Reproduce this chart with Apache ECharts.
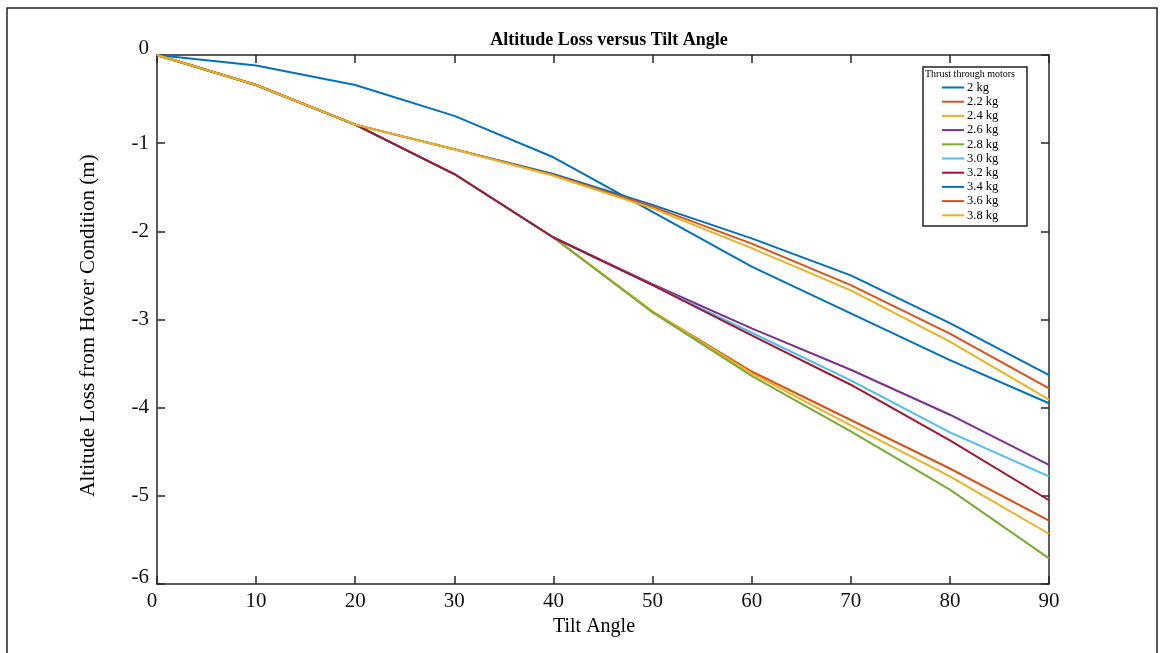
<!DOCTYPE html>
<html>
<head>
<meta charset="utf-8">
<script src="https://cdn.jsdelivr.net/npm/echarts@6/dist/echarts.min.js"></script>
<style>
html,body{margin:0;padding:0;background:#fff;}
#chart{width:1160px;height:653px;}
</style>
</head>
<body>
<div id="chart"></div>
<script>
const tiltAngles = [0, 10, 20, 30, 40, 50, 60, 70, 80, 90];
const seriesNames = ['2 kg', '2.2 kg', '2.4 kg', '2.6 kg', '2.8 kg', '3.0 kg', '3.2 kg', '3.4 kg', '3.6 kg', '3.8 kg'];
const loss2_0 = [0, -0.12, -0.34, -0.69, -1.16, -1.78, -2.40, -2.93, -3.46, -3.95];
const loss2_2 = [0, -0.34, -0.79, -1.35, -2.07, -2.91, -3.59, -4.14, -4.69, -5.28];
const loss2_4 = [0, -0.34, -0.79, -1.35, -2.07, -2.91, -3.61, -4.20, -4.78, -5.43];
const loss2_6 = [0, -0.34, -0.79, -1.35, -2.07, -2.60, -3.10, -3.57, -4.08, -4.65];
const loss2_8 = [0, -0.34, -0.79, -1.35, -2.07, -2.92, -3.64, -4.27, -4.93, -5.71];
const loss3_0 = [0, -0.34, -0.79, -1.35, -2.07, -2.61, -3.15, -3.69, -4.28, -4.78];
const loss3_2 = [0, -0.34, -0.79, -1.35, -2.07, -2.61, -3.18, -3.74, -4.37, -5.05];
const loss3_4 = [0, -0.34, -0.79, -1.07, -1.35, -1.70, -2.08, -2.50, -3.04, -3.63];
const loss3_6 = [0, -0.34, -0.79, -1.07, -1.36, -1.72, -2.14, -2.61, -3.16, -3.78];
const loss3_8 = [0, -0.34, -0.79, -1.07, -1.37, -1.74, -2.19, -2.67, -3.25, -3.91];
const allLosses = [loss2_0, loss2_2, loss2_4, loss2_6, loss2_8, loss3_0, loss3_2, loss3_4, loss3_6, loss3_8];
const colors = ['#0072BD', '#D95319', '#EDB120', '#7E2F8E', '#77AC30', '#4DBEEE', '#A2142F', '#0072BD', '#D95319', '#EDB120'];

const serif = '"Liberation Serif", "DejaVu Serif", serif';
const axisColor = '#262626';

const chart = echarts.init(document.getElementById('chart'), null, {renderer: 'canvas'});

const series = seriesNames.map((name, i) => ({
  name: name,
  type: 'line',
  xAxisIndex: 0,
  yAxisIndex: 0,
  data: tiltAngles.map((a, j) => [a, allLosses[i][j]]),
  showSymbol: false,
  symbol: 'none',
  lineStyle: {color: colors[i], width: 2},
  itemStyle: {color: colors[i]},
  emphasis: {disabled: true},
  animation: false
}));

const option = {
  animation: false,
  title: {
    text: 'Altitude Loss versus Tilt Angle',
    left: 604, top: 26, textAlign: 'center',
    textStyle: {fontFamily: serif, fontWeight: 'bold', fontSize: 18, color: '#000'}
  },
  grid: {left: 157, right: 111, top: 55, bottom: 69, containLabel: false},
  legend: {
    orient: 'vertical',
    left: 942, top: 81,
    icon: 'rect',
    itemWidth: 22, itemHeight: 2,
    itemGap: 1.2,
    padding: 0,
    data: seriesNames,
    textStyle: {fontFamily: serif, fontSize: 12.5, color: '#000', padding: [0, 0, 0, -2], lineHeight: 13}
  },
  xAxis: [{
    type: 'value', min: 0, max: 90, interval: 10, position: 'bottom',
    name: 'Tilt Angle', nameLocation: 'middle', nameGap: 29,
    nameTextStyle: {fontFamily: serif, fontSize: 20, color: '#000', padding: [0, 18, 0, 0]},
    axisLine: {show: true, onZero: false, lineStyle: {color: axisColor, width: 1.5}},
    axisTick: {show: true, inside: true, length: 8, lineStyle: {color: axisColor, width: 1.5}},
    axisLabel: {
      fontFamily: serif, fontSize: 21, color: '#111', margin: 7,
      formatter: v => v === 0 ? '{l|0}' : String(v),
      rich: {l: {fontFamily: serif, fontSize: 21, color: '#111', padding: [0, 10, 0, 0]}}
    },
    splitLine: {show: false}
  }, {
    type: 'value', min: 0, max: 90, interval: 10, position: 'top',
    axisLine: {show: true, onZero: false, lineStyle: {color: axisColor, width: 1.5}},
    axisTick: {show: true, inside: true, length: 8, lineStyle: {color: axisColor, width: 1.5}},
    axisLabel: {show: false},
    splitLine: {show: false}
  }],
  yAxis: [{
    type: 'value', min: -6, max: 0, interval: 1, position: 'left',
    name: 'Altitude Loss from Hover Condition (m)', nameLocation: 'middle', nameGap: 58,
    nameRotate: 90,
    nameTextStyle: {fontFamily: serif, fontSize: 21, color: '#000', padding: [0, 12, 0, 0]},
    axisLine: {show: true, onZero: false, lineStyle: {color: axisColor, width: 1.5}},
    axisTick: {show: true, inside: true, length: 8, lineStyle: {color: axisColor, width: 1.5}},
    axisLabel: {
      fontFamily: serif, fontSize: 21, color: '#111', margin: 8,
      formatter: v => (v === 0 || v === -6) ? '{u|' + v + '}' : String(v),
      rich: {u: {fontFamily: serif, fontSize: 21, color: '#111', padding: [0, 0, 14, 0]}}
    },
    splitLine: {show: false}
  }, {
    type: 'value', min: -6, max: 0, interval: 1, position: 'right',
    axisLine: {show: true, onZero: false, lineStyle: {color: axisColor, width: 1.5}},
    axisTick: {show: true, inside: true, length: 8, lineStyle: {color: axisColor, width: 1.5}},
    axisLabel: {show: false},
    splitLine: {show: false}
  }],
  graphic: [{
    type: 'rect', silent: true, z: -1,
    shape: {x: 7, y: 8, width: 1150, height: 660},
    style: {fill: 'none', stroke: '#222', lineWidth: 1.5}
  }, {
    type: 'rect', silent: true, z: 1,
    shape: {x: 923, y: 67, width: 104, height: 159},
    style: {fill: '#fff', stroke: '#222', lineWidth: 1.5}
  }, {
    type: 'text', silent: true, z: 2,
    left: 925, top: 69,
    style: {text: 'Thrust through motors', font: '10px ' + serif, fill: '#000'}
  }],
  series: series
};

chart.setOption(option);
</script>
</body>
</html>
